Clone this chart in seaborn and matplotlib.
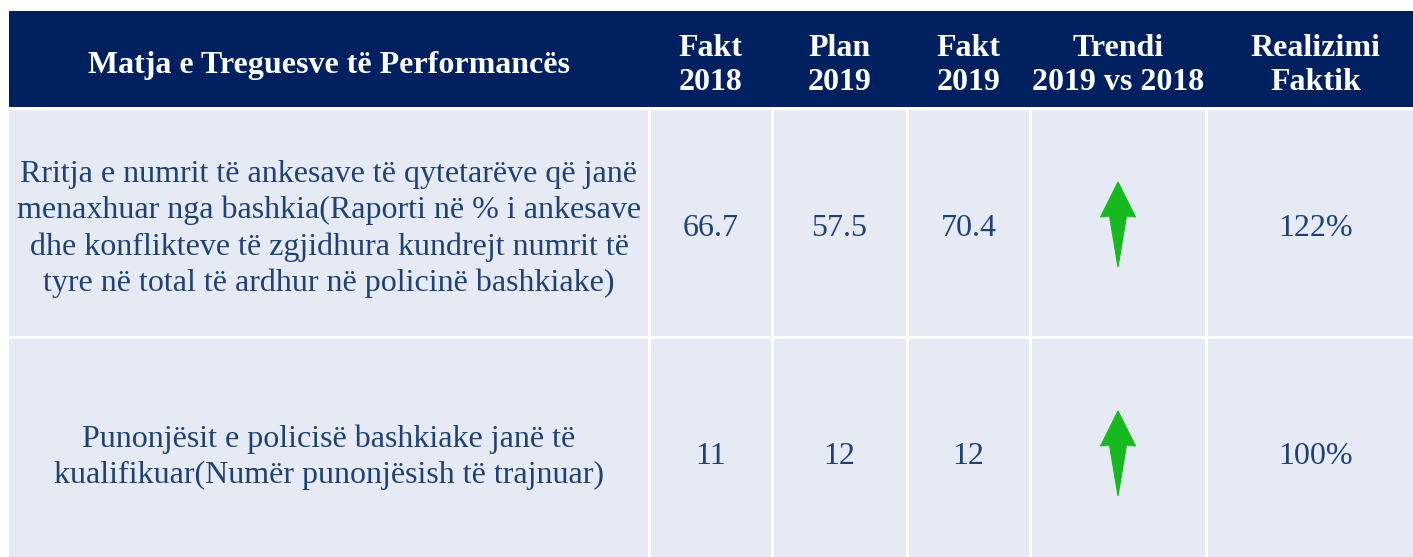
import matplotlib.pyplot as plt
import matplotlib.patches as mpatches
import seaborn as sns

# table content
headers = ['Matja e Treguesve të Performancës', 'Fakt\n2018', 'Plan\n2019',
           'Fakt\n2019', 'Trendi\n2019 vs 2018', 'Realizimi\nFaktik']
indicators = [
    'Rritja e numrit të ankesave të qytetarëve që janë\n'
    'menaxhuar nga bashkia(Raporti në % i ankesave\n'
    'dhe konflikteve të zgjidhura kundrejt numrit të\n'
    'tyre në total të ardhur në policinë bashkiake)',
    'Punonjësit e policisë bashkiake janë të\n'
    'kualifikuar(Numër punonjësish të trajnuar)',
]
fakt_2018 = ['66.7', '11']
plan_2019 = ['57.5', '12']
fakt_2019 = ['70.4', '12']
trend = ['up', 'up']
realizimi = ['122%', '100%']

sns.set_theme(style='white')
plt.rcParams['font.family'] = ['Liberation Serif', 'DejaVu Serif']

NAVY = '#002060'
CELL = '#E6EAF5'
TEXT = '#1F4272'
GREEN = '#16B91E'

# layout in pixels
col_edges = [9, 649, 772, 907, 1030, 1206, 1425]
head_top, head_bot = 11, 108
row_edges = [108, 337.5, 575]
row_text_y = [229, 457]
arrow_y = [224, 453]
gap = 3

fig = plt.figure(figsize=(14.13, 5.57), dpi=100)
ax = fig.add_axes([0, 0, 1, 1])
ax.set_xlim(0, 1413)
ax.set_ylim(557, 0)
ax.axis('off')

# header band
ax.add_patch(mpatches.Rectangle((col_edges[0], head_top), col_edges[-1] - col_edges[0],
                                head_bot - head_top - gap / 2, color=NAVY, lw=0))
for i, h in enumerate(headers):
    cx = (col_edges[i] + col_edges[i + 1]) / 2
    ax.text(cx, (head_top + head_bot) / 2 + 6, h, ha='center', va='center', color='white',
            fontsize=23, fontweight='bold', linespacing=1.26)

columns = [indicators, fakt_2018, plan_2019, fakt_2019, trend, realizimi]


def draw_arrow(cx, cy):
    pts = [(0, -42), (-17.5, -7), (-8.5, -8), (0, 43), (8.5, -8), (17.5, -7)]
    ax.add_patch(mpatches.Polygon([(cx + x, cy + y) for x, y in pts], closed=True,
                                  color=GREEN, lw=0.8))


for r in range(len(indicators)):
    y0 = row_edges[r] + gap / 2
    y1 = row_edges[r + 1] - gap / 2
    for c, col in enumerate(columns):
        x0 = col_edges[c] + (0 if c == 0 else gap / 2)
        x1 = col_edges[c + 1] - gap / 2
        ax.add_patch(mpatches.Rectangle((x0, y0), x1 - x0, y1 - y0, color=CELL, lw=0))
        cx = (col_edges[c] + col_edges[c + 1]) / 2
        if col[r] == 'up':
            draw_arrow(cx, arrow_y[r])
        else:
            ax.text(cx, row_text_y[r], col[r], ha='center', va='center', color=TEXT,
                    fontsize=23, linespacing=1.3)

fig.savefig('out.png', dpi=100, facecolor='white')
